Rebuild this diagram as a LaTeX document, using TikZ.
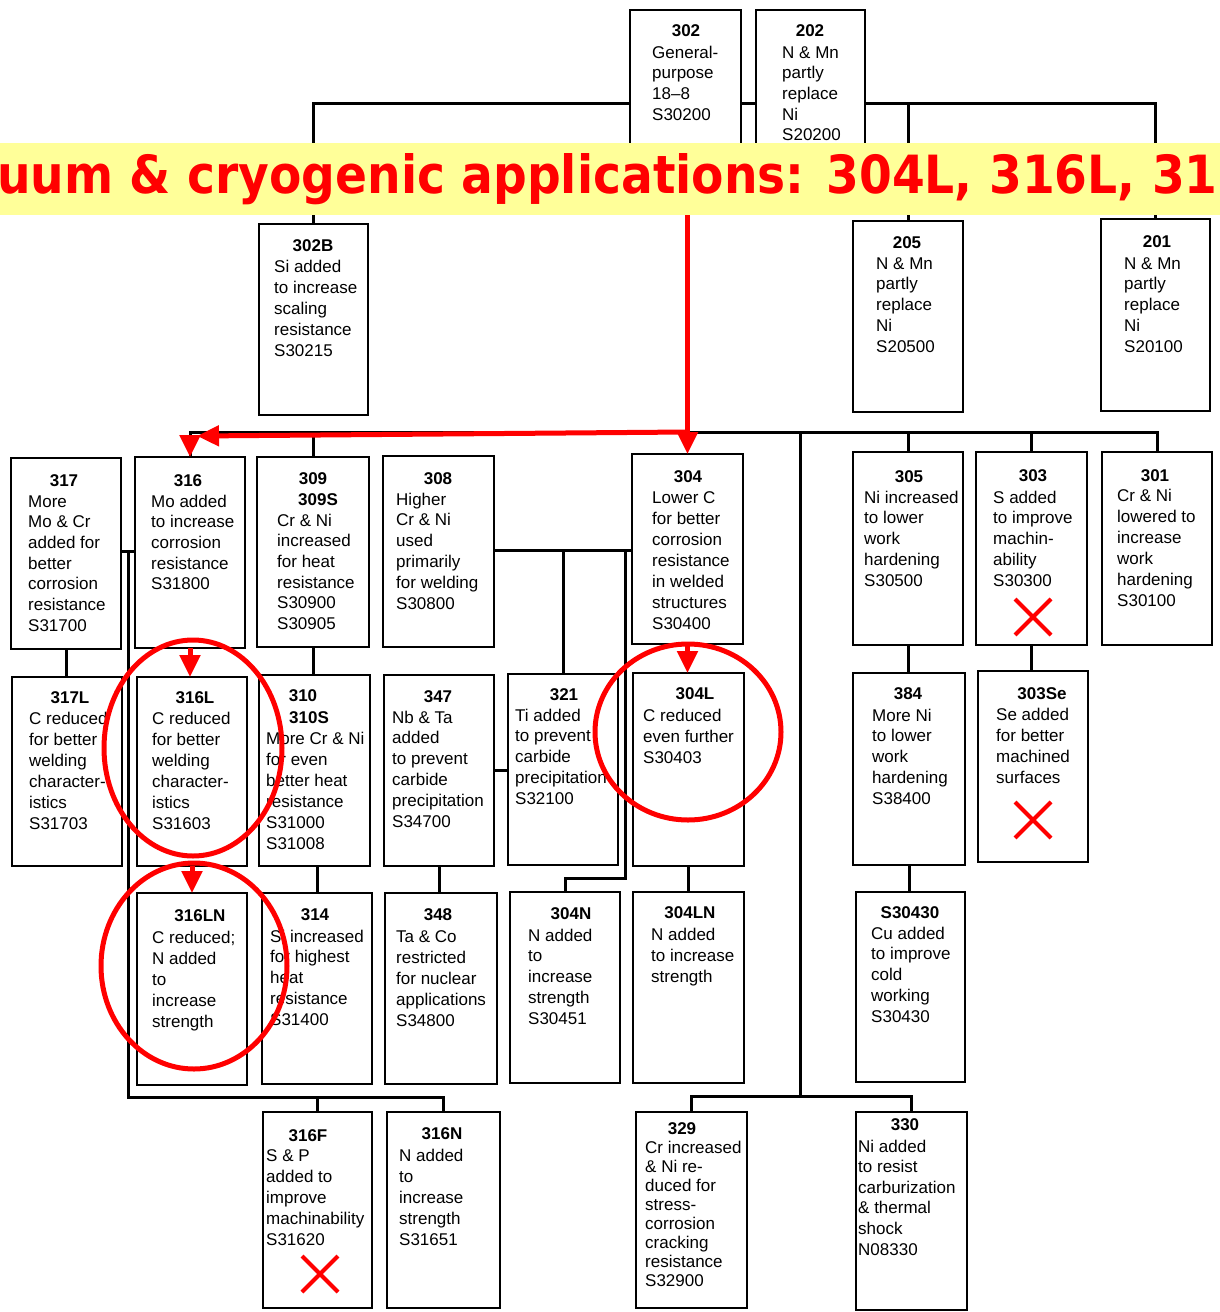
\documentclass[tikz,border=0pt]{standalone}
\usepackage{fontspec}
\setmainfont{Liberation Sans}
\newfontfamily\bannerfont{DejaVu Sans}
\usetikzlibrary{arrows.meta,shapes.geometric,shapes.misc,calc}
\definecolor{bannerYellow}{RGB}{255,255,153}
\newcommand\mybox[5]{\node[box, minimum width={#4-#2}, minimum height={#5-#3}] (#1) at ({(#2+#4)/2},{(#3+#5)/2}) {};}
\newcommand\mytitle[4]{\node[ttl] (#1-t) at (#2,#3) {#4};}
\newcommand\mylines[5]{\foreach \t [count=\i from 0] in {#5} {\node[body] (#1-\i) at (#2,{#3+\i*#4}) {\t};}}
\begin{document}
\begin{tikzpicture}[x=1pt,y=-1pt,
  box/.style={draw=black, line width=2pt, fill=white, rectangle, inner sep=0pt, outer sep=0pt},
  conn/.style={draw=black, line width=3pt},
  ttl/.style={font=\fontsize{17}{20}\selectfont\bfseries, inner sep=0pt, anchor=base},
  body/.style={font=\fontsize{17}{20}\selectfont, inner sep=0pt, anchor=base west},
  redarrow/.style={draw=red, line width=5pt, -{Triangle[length=22pt,width=20pt]}},
  redline/.style={draw=red, line width=5pt},
  ring/.style={ellipse, draw=red, line width=5pt, inner sep=0pt},
  cross/.style={cross out, draw=red, line width=4pt, inner sep=0pt, minimum size=32pt},
]
\fill[white] (0,0) rectangle (1220,1312);
\useasboundingbox (0,0) rectangle (1220,1312);

% ---------- boxes ----------
\mybox{n302}{630}{10}{741}{152}
\mybox{n202}{756}{10}{865}{152}
\mybox{n302B}{259}{224}{368}{415}
\mybox{n205}{853}{221}{963}{412}
\mybox{n201}{1101}{219}{1210}{411}
\mybox{n317}{11}{458}{121}{649}
\mybox{n316}{135}{457}{245}{648}
\mybox{n309}{257}{457}{369}{647}
\mybox{n308}{383}{456}{494}{647}
\mybox{n304}{632}{454}{743}{644}
\mybox{n305}{853}{452}{963}{645}
\mybox{n303}{976}{452}{1087}{645}
\mybox{n301}{1102}{452}{1212}{645}
\mybox{n317L}{12}{677}{122}{866}
\mybox{n316L}{137}{677}{247}{866}
\mybox{n310}{259}{675}{370}{866}
\mybox{n347}{384}{675}{494}{866}
\mybox{n321}{508}{674}{618}{865}
\mybox{n304L}{633}{673}{744}{866}
\mybox{n384}{853}{673}{965}{865}
\mybox{n303Se}{978}{671}{1088}{862}
\mybox{n316LN}{137}{893}{247}{1085}
\mybox{n314}{262}{893}{372}{1084}
\mybox{n348}{385}{893}{497}{1084}
\mybox{n304N}{510}{892}{620}{1083}
\mybox{n304LN}{633}{892}{744}{1083}
\mybox{nS30430}{856}{892}{965}{1082}
\mybox{n316F}{263}{1112}{372}{1308}
\mybox{n316N}{387}{1112}{500}{1308}
\mybox{n329}{636}{1112}{747}{1308}
\mybox{n330}{856}{1112}{967}{1310}

% ---------- connectors ----------
\coordinate (busT) at (0,103);
\coordinate (busM) at (0,432);
\draw[conn] (n302B.north) -- (n302B.north |- busT) -- (n302.west |- busT);
\draw[conn] (n302.east |- busT) -- (n202.west |- busT);
\draw[conn] (n202.east |- busT) -- (n201.north |- busT) -- (n201.north);
\draw[conn] (n205.north |- busT) -- (n205.north);

\draw[conn] (n316.north) -- (n316.north |- busM) -- (n301.north |- busM) -- (n301.north);
\draw[conn] (n309.north |- busM) -- (n309.north);
\draw[conn] (n305.north |- busM) -- (n305.north);
\draw[conn] (n303.north |- busM) -- (n303.north);

\coordinate (jV) at (800,432);
\coordinate (jVb) at (800,1096);
\draw[conn] (jV) -- (jVb);
\draw[conn] (n329.north) -- (n329.north |- jVb) -- (n330.north |- jVb) -- (n330.north);

\coordinate (j316) at (128,551);
\coordinate (j316b) at (128,1097);
\draw[conn] (n317.east |- j316) -- (n316.west |- j316);
\draw[conn] (j316) -- (j316b) -- (n316N.north |- j316b) -- (n316N.north);
\draw[conn] (n316F.north |- j316b) -- (n316F.north);

\draw[conn] (n317.south) -- (n317.south |- n317L.north);
\draw[conn] (n309.south) -- (n309.south |- n310.north);
\draw[conn] (n310.south -| n314.north) -- (n314.north);
\draw[conn] (n347.south) -- (n347.south |- n348.north);
\coordinate (j347) at (0,770);
\draw[conn] (n347.east |- j347) -- (n321.west |- j347);

\coordinate (j304) at (625,550);
\coordinate (j304N) at (625,878);
\draw[conn] (n308.east |- j304) -- (n304.west |- j304);
\draw[conn] (n321.north |- j304) -- (n321.north);
\draw[conn] (j304) -- (j304N) -- (n304N.north |- j304N) -- (n304N.north);
\draw[conn] (n304L.south) -- (n304L.south |- n304LN.north);

\draw[conn] (n305.south) -- (n305.south |- n384.north);
\draw[conn] (n384.south) -- (n384.south |- nS30430.north);
\draw[conn] (n303.south) -- (n303.south |- n303Se.north);

% ---------- texts ----------
\mytitle{n302}{686}{36}{302}
\mylines{n302}{652}{58}{20.7}{General-,purpose,18–8,S30200}
\mytitle{n202}{810}{36}{202}
\mylines{n202}{782}{58}{20.7}{N \& Mn,partly,replace,Ni,S20200}
\mytitle{n302B}{313}{251}{302B}
\mylines{n302B}{274}{272}{21.2}{Si added,to increase,scaling,resistance,S30215}
\mytitle{n205}{907}{248}{205}
\mylines{n205}{876}{269}{20.9}{N \& Mn,partly,replace,Ni,S20500}
\mytitle{n201}{1157}{247}{201}
\mylines{n201}{1124}{269}{20.8}{N \& Mn,partly,replace,Ni,S20100}

\mytitle{n317}{64}{486}{317}
\mylines{n317}{28}{507}{20.7}{More,Mo \& Cr,added for,better,corrosion,resistance,S31700}
\mytitle{n316}{188}{486}{316}
\mylines{n316}{151}{507}{20.7}{Mo added,to increase,corrosion,resistance,S31800}
\mytitle{n309}{313}{484}{309}
\node[ttl] (n309-t2) at (318,505) {309S};
\mylines{n309}{277}{526}{20.7}{Cr \& Ni,increased,for heat,resistance,S30900,S30905}
\mytitle{n308}{438}{484}{308}
\mylines{n308}{396}{505}{20.8}{Higher,Cr \& Ni,used,primarily,for welding,S30800}
\mytitle{n304}{688}{482}{304}
\mylines{n304}{652}{503}{21}{Lower C,for better,corrosion,resistance,in welded,structures,S30400}
\mytitle{n305}{909}{482}{305}
\mylines{n305}{864}{503}{20.8}{Ni increased,to lower,work,hardening,S30500}
\mytitle{n303}{1033}{481}{303}
\mylines{n303}{993}{503}{20.8}{S added,to improve,machin-,ability,S30300}
\mytitle{n301}{1155}{481}{301}
\mylines{n301}{1117}{501}{21}{Cr \& Ni,lowered to,increase,work,hardening,S30100}

\mytitle{n317L}{70}{703}{317L}
\mylines{n317L}{29}{724}{21}{C reduced,for better,welding,character-,istics,S31703}
\mytitle{n316L}{195}{703}{316L}
\mylines{n316L}{152}{724}{21}{C reduced,for better,welding,character-,istics,S31603}
\mytitle{n310}{303}{701}{310}
\node[ttl] (n310-t2) at (309,723) {310S};
\mylines{n310}{266}{744}{21}{More Cr \& Ni,for even,better heat,resistance,S31000,S31008}
\mytitle{n347}{438}{702}{347}
\mylines{n347}{392}{723}{20.8}{Nb \& Ta,added,to prevent,carbide,precipitation,S34700}
\mytitle{n321}{564}{700}{321}
\mylines{n321}{515}{721}{20.8}{Ti added,to prevent,carbide,precipitation,S32100}
\mytitle{n304L}{695}{699}{304L}
\mylines{n304L}{643}{721}{21}{C reduced,even further,S30403}
\mytitle{n384}{908}{699}{384}
\mylines{n384}{872}{721}{20.8}{More Ni,to lower,work,hardening,S38400}
\mytitle{n303Se}{1042}{699}{303Se}
\mylines{n303Se}{996}{720}{21}{Se added,for better,machined,surfaces}

\mytitle{n316LN}{200}{921}{316LN}
\mylines{n316LN}{152}{943}{21}{C reduced;,N added,to,increase,strength}
\mytitle{n314}{315}{920}{314}
\mylines{n314}{270}{942}{20.8}{Si increased,for highest,heat,resistance,S31400}
\mytitle{n348}{438}{920}{348}
\mylines{n348}{396}{942}{21}{Ta \& Co,restricted,for nuclear,applications,S34800}
\mytitle{n304N}{571}{919}{304N}
\mylines{n304N}{528}{941}{20.8}{N added,to,increase,strength,S30451}
\mytitle{n304LN}{690}{918}{304LN}
\mylines{n304LN}{651}{940}{21}{N added,to increase,strength}
\mytitle{nS30430}{910}{918}{S30430}
\mylines{nS30430}{871}{939}{20.8}{Cu added,to improve,cold,working,S30430}

\mytitle{n316F}{308}{1141}{316F}
\mylines{n316F}{266}{1161}{21}{S \& P,added to,improve,machinability,S31620}
\mytitle{n316N}{442}{1139}{316N}
\mylines{n316N}{399}{1161}{21}{N added,to,increase,strength,S31651}
\mytitle{n329}{682}{1134}{329}
\mylines{n329}{645}{1153}{19}{Cr increased,\& Ni re-,duced for,stress-,corrosion,cracking,resistance,S32900}
\mytitle{n330}{905}{1130}{330}
\mylines{n330}{858}{1152}{20.6}{Ni added,to resist,carburization,\& thermal,shock,N08330}

% ---------- banner ----------
\node[fill=bannerYellow, minimum width=1220pt, minimum height=72pt, inner sep=0pt] (banner) at (610,179) {};
\node[anchor=base west, inner sep=0pt, text=red] (bannertext) at (-3,193)
  {\resizebox{1220pt}{40pt}{\bannerfont\bfseries uum \& cryogenic applications: 304L, 316L, 31}};

% ---------- red marks ----------
\coordinate (redL) at (197,436);
\draw[redarrow] (n304.north |- banner.south) -- (n304.north);
\draw[redarrow] (n304.north |- busM) -- (redL);
\draw[redarrow] (n316.north |- redL) -- (n316.north);
\draw[redarrow] (n316.south) -- (n316.south |- n316L.north);
\draw[redarrow] (n316L.south) -- (n316L.south |- n316LN.north);
\draw[redarrow] (n304.south) -- (n304.south |- n304L.north);

\node[ring, minimum width=178pt, minimum height=216pt] (ring316L) at (193,748) {};
\node[ring, minimum width=186pt, minimum height=206pt] (ring316LN) at (194,966) {};
\node[ring, minimum width=186pt, minimum height=176pt] (ring304L) at (688,732) {};

\node[cross] (x303) at (1033,617) {};
\node[cross] (x303Se) at (1033,820) {};
\node[cross] (x316F) at (320,1274) {};
\end{tikzpicture}
\end{document}
